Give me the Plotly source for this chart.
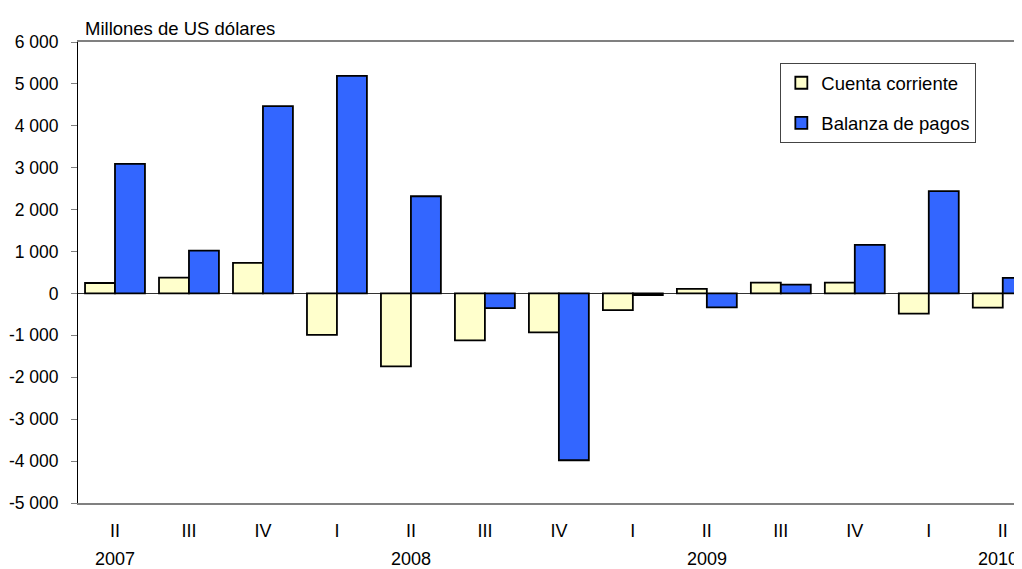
import plotly.graph_objects as go

quarters = ["2007 II", "2007 III", "2007 IV", "2008 I", "2008 II", "2008 III", "2008 IV",
            "2009 I", "2009 II", "2009 III", "2009 IV", "2010 I", "2010 II"]
quarter_labels = ["II", "III", "IV", "I", "II", "III", "IV", "I", "II", "III", "IV", "I", "II"]
year_positions = ["2007 II", "2008 II", "2009 II", "2010 II"]
year_labels = ["2007", "2008", "2009", "2010"]
cuenta_corriente = [250, 380, 730, -990, -1740, -1120, -930, -400, 110, 260, 260, -480, -340]
balanza_pagos = [3090, 1020, 4470, 5190, 2320, -350, -3980, -40, -330, 210, 1160, 2440, 370]
y_ticks = [-5000, -4000, -3000, -2000, -1000, 0, 1000, 2000, 3000, 4000, 5000, 6000]
y_tick_labels = ["-5 000", "-4 000", "-3 000", "-2 000", "-1 000", "0", "1 000",
                 "2 000", "3 000", "4 000", "5 000", "6 000"]

FONT = "Liberation Sans, Arial, sans-serif"

fig = go.Figure()
fig.add_trace(go.Bar(name="Cuenta corriente", x=quarters, y=cuenta_corriente, legendgroup="a",
                     marker=dict(color="#FFFFCC", line=dict(color="black", width=1.8))))
fig.add_trace(go.Bar(name="Balanza de pagos", x=quarters, y=balanza_pagos, legendgroup="b",
                     marker=dict(color="#3366FF", line=dict(color="black", width=1.8))))

annotations = [dict(text="Millones de US dólares", xref="paper", yref="paper",
                    x=0.005, y=1, xanchor="left", yanchor="bottom", yshift=1,
                    showarrow=False, font=dict(family=FONT, size=18.5, color="black"))]
for i, (pos, lab) in enumerate(zip(year_positions, year_labels)):
    annotations.append(dict(text=lab, x=pos, xref="x", yref="paper", y=0,
                            xanchor="center", yanchor="top", yshift=-44,
                            xshift=-5 if i == len(year_labels) - 1 else 0,
                            showarrow=False, font=dict(family=FONT, size=18, color="black")))

fig.update_layout(
    width=1014, height=561,
    margin=dict(l=70, r=0, t=34, b=66, autoexpand=False),
    paper_bgcolor="white", plot_bgcolor="white",
    font=dict(family=FONT, size=18, color="black"),
    barmode="group", bargap=0.19, bargroupgap=0,
    showlegend=True,
    legend=dict(x=0.744, y=0.954, xanchor="left", yanchor="top",
                bordercolor="#444444", borderwidth=1, bgcolor="white",
                font=dict(family=FONT, size=18.5, color="black"),
                traceorder="grouped", tracegroupgap=13, itemwidth=30),
    annotations=annotations,
)

fig.update_xaxes(
    type="category", range=[-0.5, 12.26], automargin=False,
    tickmode="array", tickvals=quarters, ticktext=quarter_labels,
    showline=True, linecolor="#808080", linewidth=2, mirror=True,
    ticks="", showgrid=False, zeroline=False,
    tickfont=dict(family=FONT, size=18, color="black"),
    ticklabelstandoff=10,
)
fig.update_yaxes(
    range=[-5000, 6000], automargin=False,
    tickmode="array", tickvals=y_ticks, ticktext=y_tick_labels,
    showline=True, linecolor="black", linewidth=1,
    ticks="outside", ticklen=6, tickcolor="#808080",
    showgrid=False, zeroline=True, zerolinecolor="#333333", zerolinewidth=1,
    tickfont=dict(family=FONT, size=17.5, color="black"),
    ticklabelstandoff=9,
)

fig.write_html("out.html")
